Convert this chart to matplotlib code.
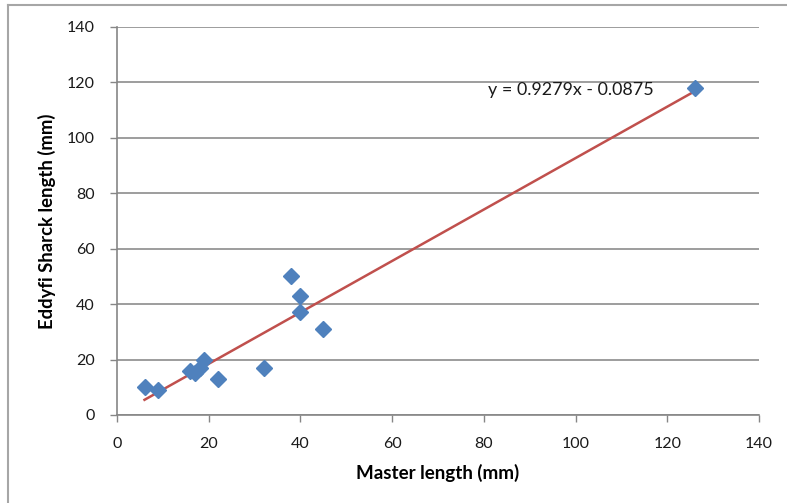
import matplotlib
matplotlib.use("Agg")
import matplotlib.pyplot as plt
from matplotlib.lines import Line2D
import numpy as np

plt.rcParams['font.family'] = ['Lato', 'DejaVu Sans']

master_mm = [6, 9, 16, 17, 18, 19, 22, 32, 38, 40, 40, 45, 126]
eddyfi_mm = [10, 9, 16, 15, 17, 20, 13, 17, 50, 43, 37, 31, 118]

slope = 0.9279
intercept = -0.0875
equation_label = "y = 0.9279x - 0.0875"

x_ticks = [0, 20, 40, 60, 80, 100, 120, 140]
y_ticks = [0, 20, 40, 60, 80, 100, 120, 140]

fig = plt.figure(figsize=(7.87, 5.03), dpi=100)
ax = fig.add_axes([117 / 787, 1 - 415 / 503, (759 - 117) / 787, (415 - 27) / 503])

grid_col = '#8c8c8c'
ax.set_xlim(0, 140)
ax.set_ylim(0, 140)
ax.set_xticks(x_ticks)
ax.set_yticks(y_ticks)
ax.yaxis.grid(True, color=grid_col, linewidth=1.2)
ax.set_axisbelow(True)

for side in ('top', 'right'):
    ax.spines[side].set_visible(False)
for side in ('left', 'bottom'):
    ax.spines[side].set_color('#868686')
    ax.spines[side].set_linewidth(1.2)

ax.tick_params(axis='both', direction='out', length=5, width=1.0,
               color='#868686', labelsize=11.5, labelcolor='#1a1a1a')
ax.tick_params(axis='x', pad=11)
ax.tick_params(axis='y', pad=11)

# trendline over the span of the data
xfit = np.array([min(master_mm), max(master_mm)])
ax.plot(xfit, slope * xfit + intercept, color='#C0504D', linewidth=1.8, zorder=2)

ax.plot(master_mm, eddyfi_mm, linestyle='none', marker='D', markersize=8,
        color='#4F81BD', markeredgecolor='#4F81BD', zorder=3, clip_on=False)

ax.text(0.578, 0.838, equation_label, transform=ax.transAxes, fontsize=12.9,
        color='#1a1a1a', ha='left', va='center')

ax.set_xlabel('Master length (mm)', fontsize=13.5, fontweight='bold', labelpad=9)
ax.set_ylabel('Eddyfi Sharck length (mm)', fontsize=13.3, fontweight='bold', labelpad=8)

# chart area border
fig.add_artist(Line2D([8 / 787, 8 / 787], [0, 1 - 5 / 503], transform=fig.transFigure,
                      color='#a6a6a6', linewidth=1.5))
fig.add_artist(Line2D([8 / 787, 1], [1 - 5 / 503, 1 - 5 / 503], transform=fig.transFigure,
                      color='#a6a6a6', linewidth=1.5))

fig.savefig('out.png', dpi=100)
